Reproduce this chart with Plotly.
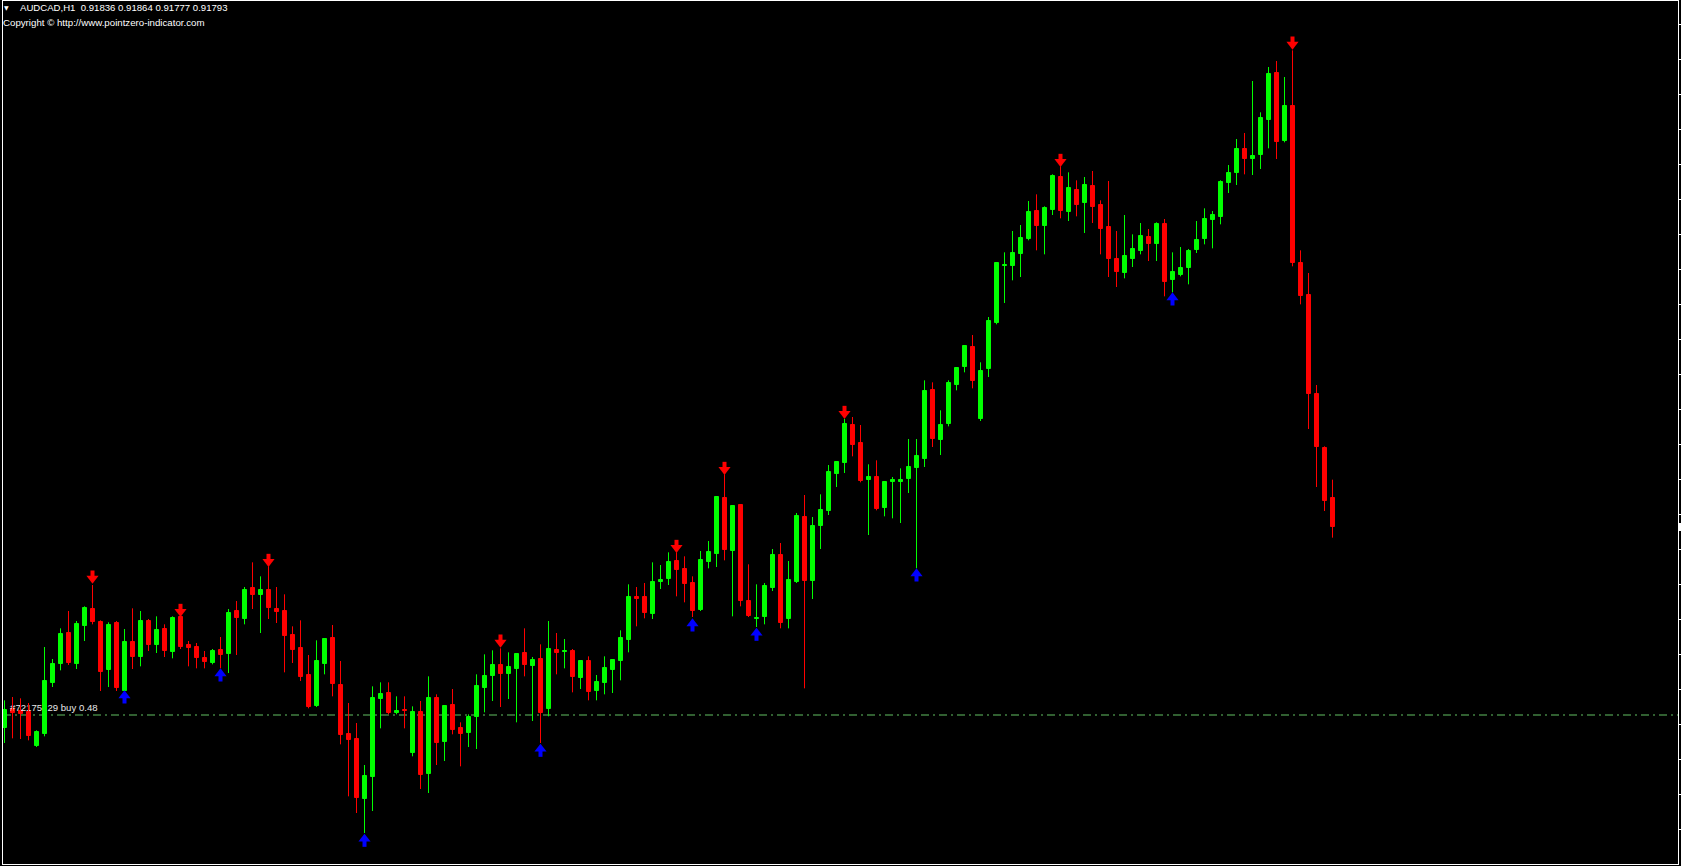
import plotly.graph_objects as go

# ---------------- data ----------------
symbol = "AUDCAD,H1"
header_ohlc = ["0.91836", "0.91864", "0.91777", "0.91793"]
copyright_text = "Copyright \u00a9 http://www.pointzero-indicator.com"
order_label = "#72175\u200729 buy 0.48"
order_price = 0.91511

opens = [
    0.91491, 0.91520, 0.91517, 0.91515, 0.91464, 0.91482, 0.91559, 0.91587, 0.91634, 0.91587,
    0.91644, 0.91670, 0.91650, 0.91578, 0.91649, 0.91547, 0.91620, 0.91598, 0.91652, 0.91616,
    0.91640, 0.91605, 0.91658, 0.91616, 0.91613, 0.91596, 0.91589, 0.91608, 0.91602, 0.91667,
    0.91655, 0.91701, 0.91691, 0.91698, 0.91670, 0.91667, 0.91631, 0.91611, 0.91571, 0.91524,
    0.91587, 0.91626, 0.91556, 0.91482, 0.91475, 0.91385, 0.91418, 0.91535, 0.91544, 0.91514,
    0.91518, 0.91454, 0.91515, 0.91422, 0.91536, 0.91470, 0.91526, 0.91491, 0.91484, 0.91508,
    0.91551, 0.91569, 0.91586, 0.91572, 0.91580, 0.91604, 0.91584, 0.91595, 0.91520, 0.91608,
    0.91605, 0.91607, 0.91566, 0.91592, 0.91547, 0.91559, 0.91578, 0.91592, 0.91623, 0.91688,
    0.91688, 0.91662, 0.91710, 0.91715, 0.91742, 0.91730, 0.91709, 0.91668, 0.91740, 0.91752,
    0.91836, 0.91757, 0.91826, 0.91682, 0.91655, 0.91658, 0.91701, 0.91751, 0.91655, 0.91710,
    0.91808, 0.91712, 0.91794, 0.91817, 0.91872, 0.91889, 0.91946, 0.91919, 0.91863, 0.91868,
    0.91821, 0.91860, 0.91860, 0.91865, 0.91881, 0.91895, 0.91998, 0.91923, 0.91947, 0.92006,
    0.92033, 0.92063, 0.91955, 0.92030, 0.92099, 0.92184, 0.92184, 0.92202, 0.92225, 0.92267,
    0.92244, 0.92268, 0.92318, 0.92265, 0.92298, 0.92279, 0.92304, 0.92276, 0.92243, 0.92195,
    0.92174, 0.92195, 0.92207, 0.92228, 0.92217, 0.92247, 0.92163, 0.92171, 0.92181, 0.92208,
    0.92225, 0.92253, 0.92258, 0.92309, 0.92324, 0.92360, 0.92345, 0.92351, 0.92403, 0.92474,
    0.92372, 0.92424, 0.92189, 0.92141, 0.91992, 0.91911, 0.91836,
]
highs = [
    0.91533, 0.91538, 0.91536, 0.91529, 0.91488, 0.91613, 0.91595, 0.91641, 0.91667, 0.91652,
    0.91674, 0.91706, 0.91653, 0.91650, 0.91652, 0.91640, 0.91671, 0.91667, 0.91655, 0.91659,
    0.91647, 0.91659, 0.91659, 0.91622, 0.91619, 0.91607, 0.91610, 0.91628, 0.91670, 0.91682,
    0.91703, 0.91740, 0.91719, 0.91734, 0.91703, 0.91692, 0.91644, 0.91653, 0.91601, 0.91623,
    0.91626, 0.91646, 0.91592, 0.91529, 0.91499, 0.91436, 0.91554, 0.91560, 0.91560, 0.91539,
    0.91539, 0.91524, 0.91532, 0.91569, 0.91542, 0.91526, 0.91550, 0.91500, 0.91512, 0.91572,
    0.91602, 0.91608, 0.91611, 0.91605, 0.91604, 0.91641, 0.91598, 0.91617, 0.91652, 0.91634,
    0.91625, 0.91610, 0.91593, 0.91599, 0.91571, 0.91599, 0.91595, 0.91638, 0.91707, 0.91703,
    0.91709, 0.91740, 0.91736, 0.91755, 0.91755, 0.91749, 0.91719, 0.91757, 0.91772, 0.91839,
    0.91872, 0.91826, 0.91827, 0.91737, 0.91707, 0.91709, 0.91760, 0.91769, 0.91742, 0.91814,
    0.91841, 0.91808, 0.91842, 0.91886, 0.91892, 0.91955, 0.91958, 0.91946, 0.91887, 0.91893,
    0.91862, 0.91868, 0.91881, 0.91925, 0.91925, 0.92013, 0.92010, 0.91968, 0.92013, 0.92033,
    0.92066, 0.92081, 0.92040, 0.92108, 0.92190, 0.92205, 0.92237, 0.92246, 0.92282, 0.92292,
    0.92274, 0.92322, 0.92334, 0.92325, 0.92313, 0.92318, 0.92327, 0.92283, 0.92312, 0.92237,
    0.92261, 0.92232, 0.92249, 0.92240, 0.92250, 0.92255, 0.92205, 0.92213, 0.92210, 0.92252,
    0.92271, 0.92267, 0.92313, 0.92336, 0.92375, 0.92384, 0.92462, 0.92415, 0.92483, 0.92492,
    0.92468, 0.92508, 0.92208, 0.92174, 0.92006, 0.91914, 0.91864,
]
lows = [
    0.91469, 0.91476, 0.91475, 0.91473, 0.91463, 0.91479, 0.91553, 0.91578, 0.91586, 0.91580,
    0.91622, 0.91647, 0.91547, 0.91553, 0.91547, 0.91545, 0.91580, 0.91584, 0.91607, 0.91604,
    0.91598, 0.91596, 0.91610, 0.91584, 0.91581, 0.91581, 0.91587, 0.91581, 0.91574, 0.91601,
    0.91647, 0.91670, 0.91634, 0.91655, 0.91649, 0.91575, 0.91589, 0.91562, 0.91521, 0.91523,
    0.91572, 0.91539, 0.91467, 0.91389, 0.91364, 0.91334, 0.91367, 0.91491, 0.91512, 0.91512,
    0.91491, 0.91449, 0.91400, 0.91394, 0.91436, 0.91442, 0.91482, 0.91434, 0.91463, 0.91460,
    0.91515, 0.91532, 0.91523, 0.91535, 0.91500, 0.91569, 0.91502, 0.91469, 0.91509, 0.91572,
    0.91581, 0.91545, 0.91550, 0.91533, 0.91533, 0.91542, 0.91544, 0.91563, 0.91605, 0.91644,
    0.91656, 0.91655, 0.91700, 0.91706, 0.91689, 0.91680, 0.91658, 0.91667, 0.91731, 0.91733,
    0.91743, 0.91659, 0.91674, 0.91658, 0.91643, 0.91647, 0.91697, 0.91641, 0.91641, 0.91709,
    0.91551, 0.91685, 0.91760, 0.91811, 0.91853, 0.91874, 0.91899, 0.91860, 0.91781, 0.91818,
    0.91809, 0.91806, 0.91799, 0.91844, 0.91731, 0.91883, 0.91913, 0.91901, 0.91944, 0.91998,
    0.92025, 0.92001, 0.91952, 0.92018, 0.92097, 0.92129, 0.92163, 0.92168, 0.92223, 0.92208,
    0.92202, 0.92261, 0.92256, 0.92252, 0.92259, 0.92234, 0.92249, 0.92202, 0.92168, 0.92153,
    0.92166, 0.92183, 0.92202, 0.92192, 0.92192, 0.92139, 0.92145, 0.92169, 0.92157, 0.92204,
    0.92217, 0.92211, 0.92247, 0.92294, 0.92306, 0.92322, 0.92321, 0.92330, 0.92361, 0.92345,
    0.92370, 0.92184, 0.92127, 0.91940, 0.91853, 0.91817, 0.91777,
]
closes = [
    0.91518, 0.91514, 0.91512, 0.91479, 0.91485, 0.91562, 0.91587, 0.91632, 0.91589, 0.91647,
    0.91671, 0.91650, 0.91575, 0.91646, 0.91551, 0.91620, 0.91598, 0.91652, 0.91616, 0.91638,
    0.91607, 0.91656, 0.91613, 0.91611, 0.91596, 0.91590, 0.91607, 0.91601, 0.91664, 0.91656,
    0.91698, 0.91691, 0.91698, 0.91671, 0.91665, 0.91629, 0.91608, 0.91568, 0.91523, 0.91592,
    0.91625, 0.91557, 0.91481, 0.91473, 0.91386, 0.91419, 0.91536, 0.91542, 0.91514, 0.91517,
    0.91517, 0.91515, 0.91421, 0.91536, 0.91469, 0.91524, 0.91488, 0.91482, 0.91508, 0.91554,
    0.91569, 0.91586, 0.91572, 0.91583, 0.91602, 0.91586, 0.91593, 0.91514, 0.91610, 0.91604,
    0.91607, 0.91568, 0.91592, 0.91545, 0.91560, 0.91581, 0.91593, 0.91626, 0.91688, 0.91685,
    0.91664, 0.91710, 0.91713, 0.91740, 0.91728, 0.91707, 0.91667, 0.91743, 0.91755, 0.91838,
    0.91758, 0.91824, 0.91682, 0.91659, 0.91656, 0.91704, 0.91751, 0.91649, 0.91713, 0.91809,
    0.91712, 0.91794, 0.91818, 0.91875, 0.91890, 0.91947, 0.91916, 0.91862, 0.91868, 0.91820,
    0.91860, 0.91863, 0.91863, 0.91883, 0.91899, 0.91997, 0.91925, 0.91946, 0.92009, 0.92031,
    0.92064, 0.92012, 0.92027, 0.92102, 0.92189, 0.92186, 0.92204, 0.92226, 0.92265, 0.92244,
    0.92271, 0.92319, 0.92267, 0.92301, 0.92276, 0.92306, 0.92273, 0.92240, 0.92195, 0.92175,
    0.92199, 0.92210, 0.92229, 0.92217, 0.92247, 0.92160, 0.92175, 0.92181, 0.92207, 0.92223,
    0.92255, 0.92261, 0.92310, 0.92324, 0.92360, 0.92345, 0.92349, 0.92406, 0.92472, 0.92370,
    0.92424, 0.92189, 0.92139, 0.91992, 0.91913, 0.91832, 0.91793,
]

# indicator signals (bar index, arrow price level)
sell_idx = [11, 22, 33, 62, 84, 90, 105, 132, 161]
sell_px = [0.91718, 0.91668, 0.91743, 0.91622, 0.91764, 0.91881, 0.91965, 0.92343, 0.92519]
buy_idx = [15, 27, 45, 67, 86, 94, 114, 146]
buy_px = [0.91538, 0.91571, 0.91323, 0.91458, 0.91646, 0.91632, 0.91721, 0.92135]

# ---------------- layout geometry ----------------
W, H = 1681, 866
ML, MR, MT, MB = 3, 3, 1, 2
PW = W - ML - MR
PH = H - MT - MB
BAR_PX = 8
x_lo = -0.1875
x_range = [x_lo, x_lo + PW / BAR_PX]
y_range = [0.912875, 0.92582]
ppx = (y_range[1] - y_range[0]) / PH

UP = "#00FF00"
DN = "#FF0000"
BLUE = "#0000FF"

n = len(opens)
idx = list(range(n))
up_i = [i for i in idx if closes[i] >= opens[i]]
dn_i = [i for i in idx if closes[i] < opens[i]]

fig = go.Figure()

# order label (drawn first so candles cover it)
fig.add_trace(go.Scatter(
    x=[0.7], y=[order_price + 6 * ppx], mode="text", text=[order_label],
    textposition="middle right",
    textfont=dict(color="#E8E8E8", size=9.6, family="Liberation Sans"),
    hoverinfo="skip"))


def wick_xy(sel):
    xs, ys = [], []
    for i in sel:
        xs += [i, i, None]
        ys += [lows[i], highs[i], None]
    return xs, ys


for sel, col in ((up_i, UP), (dn_i, DN)):
    wx, wy = wick_xy(sel)
    fig.add_trace(go.Scatter(x=wx, y=wy, mode="lines",
                             line=dict(color=col, width=1), hoverinfo="skip"))
    fig.add_trace(go.Bar(
        x=sel,
        base=[min(opens[i], closes[i]) for i in sel],
        y=[abs(closes[i] - opens[i]) for i in sel],
        width=0.5,
        marker=dict(color=col, line=dict(color=col, width=1)),
        hoverinfo="skip"))


# arrows: stem + head
def arrow(sel, vals, col, down):
    sgn = 1 if down else -1
    sx, sy = [], []
    for i, v in zip(sel, vals):
        sx += [i, i, None]
        sy += [v + sgn * 6.5 * ppx, v - sgn * 0.5 * ppx, None]
    fig.add_trace(go.Scatter(x=sx, y=sy, mode="lines",
                             line=dict(color=col, width=4), hoverinfo="skip"))
    fig.add_trace(go.Scatter(
        x=sel, y=[v - sgn * 1.4 * ppx for v in vals], mode="markers",
        marker=dict(symbol="triangle-down" if down else "triangle-up",
                    size=10.5, color=col, line=dict(width=0)),
        hoverinfo="skip"))


arrow(sell_idx, sell_px, DN, True)
arrow(buy_idx, buy_px, BLUE, False)

shapes = [
    dict(type="line", xref="paper", x0=0, x1=1, yref="y",
         y0=order_price, y1=order_price, layer="below",
         line=dict(color="#62C062", width=1, dash="8px,4px,2px,4px")),
    dict(type="rect", xref="paper", x0=1 + 1.0 / PW, x1=1 + 4.0 / PW, yref="y",
         y0=closes[-1] - 4 * ppx, y1=closes[-1] + 4 * ppx,
         fillcolor="white", line=dict(width=0)),
]


def px_x(p):
    return (p - ML) / PW


def px_y(p):
    return 1 - (p - MT) / PH


annotations = [
    dict(xref="paper", yref="paper", x=px_x(1.5), y=px_y(7.5), text="\u25BC",
         showarrow=False, xanchor="left", yanchor="middle",
         font=dict(color="white", size=6, family="DejaVu Sans")),
    dict(xref="paper", yref="paper", x=px_x(18), y=px_y(7.5),
         text=symbol + "\u00a0\u00a0" + " ".join(header_ohlc),
         showarrow=False, xanchor="left", yanchor="middle",
         font=dict(color="white", size=9.6, family="Liberation Sans")),
    dict(xref="paper", yref="paper", x=px_x(1), y=px_y(22.5),
         text=copyright_text,
         showarrow=False, xanchor="left", yanchor="middle",
         font=dict(color="white", size=9.7, family="Liberation Sans")),
]

fig.update_layout(
    width=W, height=H,
    margin=dict(l=ML, r=MR, t=MT, b=MB, pad=0),
    paper_bgcolor="black", plot_bgcolor="black",
    showlegend=False, barmode="overlay", bargap=0,
    hovermode=False,
    shapes=shapes, annotations=annotations,
    xaxis=dict(range=x_range, showgrid=False, zeroline=False,
               showticklabels=False, ticks="",
               showline=True, linecolor="white", linewidth=1, mirror=True,
               fixedrange=True),
    yaxis=dict(range=y_range, side="right", showgrid=False, zeroline=False,
               showticklabels=False, ticks="outside", ticklen=3, tickwidth=1,
               tickcolor="white", tick0=0.9254615, dtick=0.000525,
               showline=True, linecolor="white", linewidth=1, mirror=True,
               fixedrange=True),
)

fig.write_html(
    "out.html",
    config={"displayModeBar": False},
    post_script="document.body.style.margin='0';document.body.style.overflow='hidden';"
                "document.body.style.background='black';",
)
